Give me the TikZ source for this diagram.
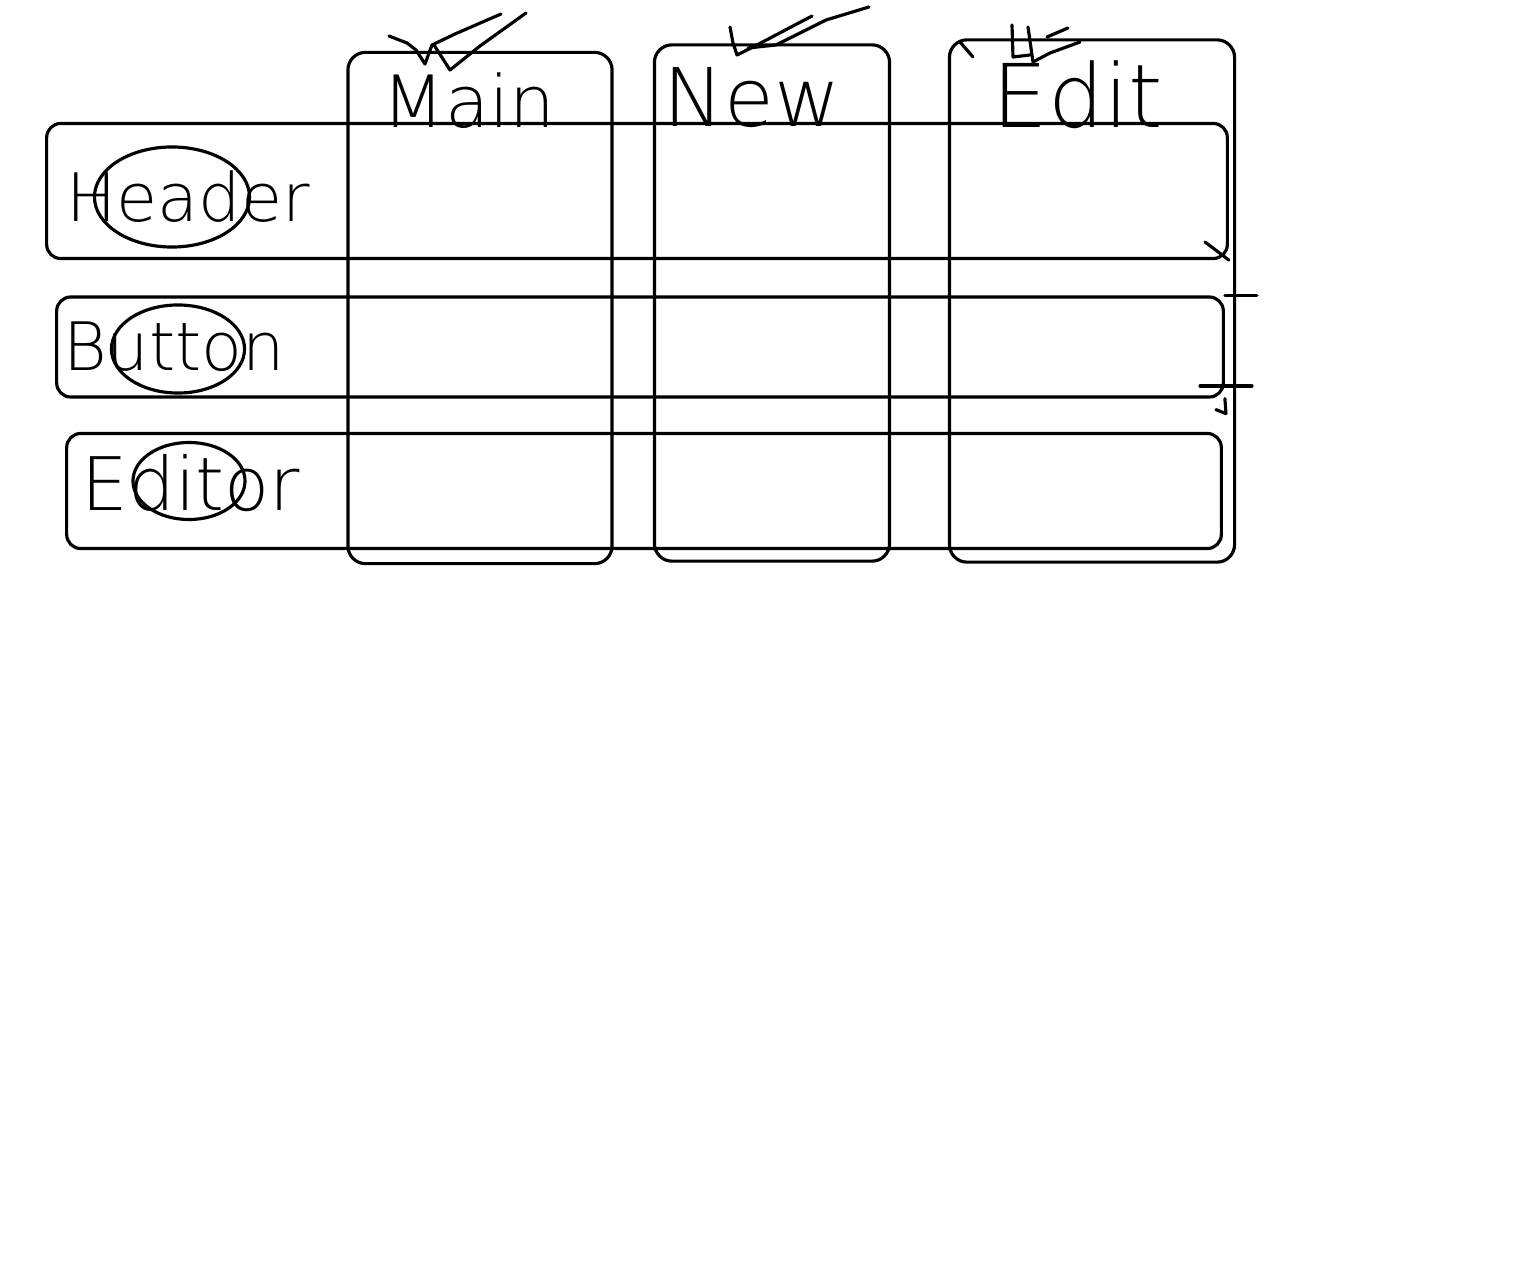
\documentclass[tikz,border=0pt]{standalone}
\usepackage{fontspec}
\IfFontExistsTF{DejaVu Sans ExtraLight}{\setmainfont{DejaVu Sans ExtraLight}}{\setmainfont{Liberation Sans}}
\usetikzlibrary{shapes.geometric}

\begin{document}
\begin{tikzpicture}[x=0.01cm,y=-0.01cm,line width=0.9pt,line cap=round,line join=round,
  col/.style={rectangle,draw,rounded corners=5pt,inner sep=0pt},
  band/.style={rectangle,draw,rounded corners=4pt,inner sep=0pt},
  lbl/.style={font=\fontsize{#1}{#1}\selectfont,inner sep=0pt},
  lbl/.default=19,
  ring/.style={ellipse,draw,inner sep=0pt}
]
  \useasboundingbox (0,0) rectangle (1514,1276);
  % columns
  \node[col,minimum width=2.64cm,minimum height=5.11cm] (colmain) at (480,308) {};
  \node[col,minimum width=2.35cm,minimum height=5.16cm] (colnew) at (772,303) {};
  \node[col,minimum width=2.85cm,minimum height=5.22cm] (coledit) at (1092,301) {};
  \node[lbl=20.5] (tmain) at (469,101) {Main};
  \node[lbl=23] (tnew) at (752,98) {New};
  \node[lbl=25] (tedit) at (1078,95) {Edit};
  % rows
  \node[band,minimum width=11.80cm,minimum height=1.35cm] (rowheader) at (637,191) {};
  \node[band,minimum width=11.66cm,minimum height=1.00cm] (rowbutton) at (640,347) {};
  \node[band,minimum width=11.54cm,minimum height=1.15cm] (roweditor) at (644,491) {};
  \node[lbl=19] (theader) at (188,197) {Header};
  \node[lbl=19] (tbutton) at (174,347) {Button};
  \node[lbl=21] (teditor) at (191,483) {Editor};
  \node[ring,minimum width=1.55cm,minimum height=1.00cm] (eheader) at (172,197) {};
  \node[ring,minimum width=1.33cm,minimum height=0.88cm] (ebutton) at (178,349) {};
  \node[ring,minimum width=1.12cm,minimum height=0.77cm] (eeditor) at (189,481) {};
  % ticks above the tabs
  \draw (389,36) -- (407,43) -- (416,50) -- (425,64) -- (432,45) -- (455,34) -- (501,14);
  \draw (434,45) -- (450,70) -- (480,46) -- (526,13);
  \draw (730,27) -- (733,43) -- (737,55) -- (755,46) -- (812,16);
  \draw (748,48) -- (776,45) -- (826,20) -- (869,7);
  \draw (1012,25) -- (1013,57) -- (1030,55);
  \draw (1028,27) -- (1033,62) -- (1050,53) -- (1080,42);
  \draw (1047,37) -- (1068,28);
  \draw (960,42) -- (973,57);
  % loose strokes at the right
  \draw (1205,242) -- (rowheader.south east);
  \draw (rowbutton.north east) -- ++(32,0);
  \draw (1200,386) -- (1252,386);
  \draw (rowbutton.south east) -- ++(1,15) -- ++(-10,-4);
\end{tikzpicture}
\end{document}
